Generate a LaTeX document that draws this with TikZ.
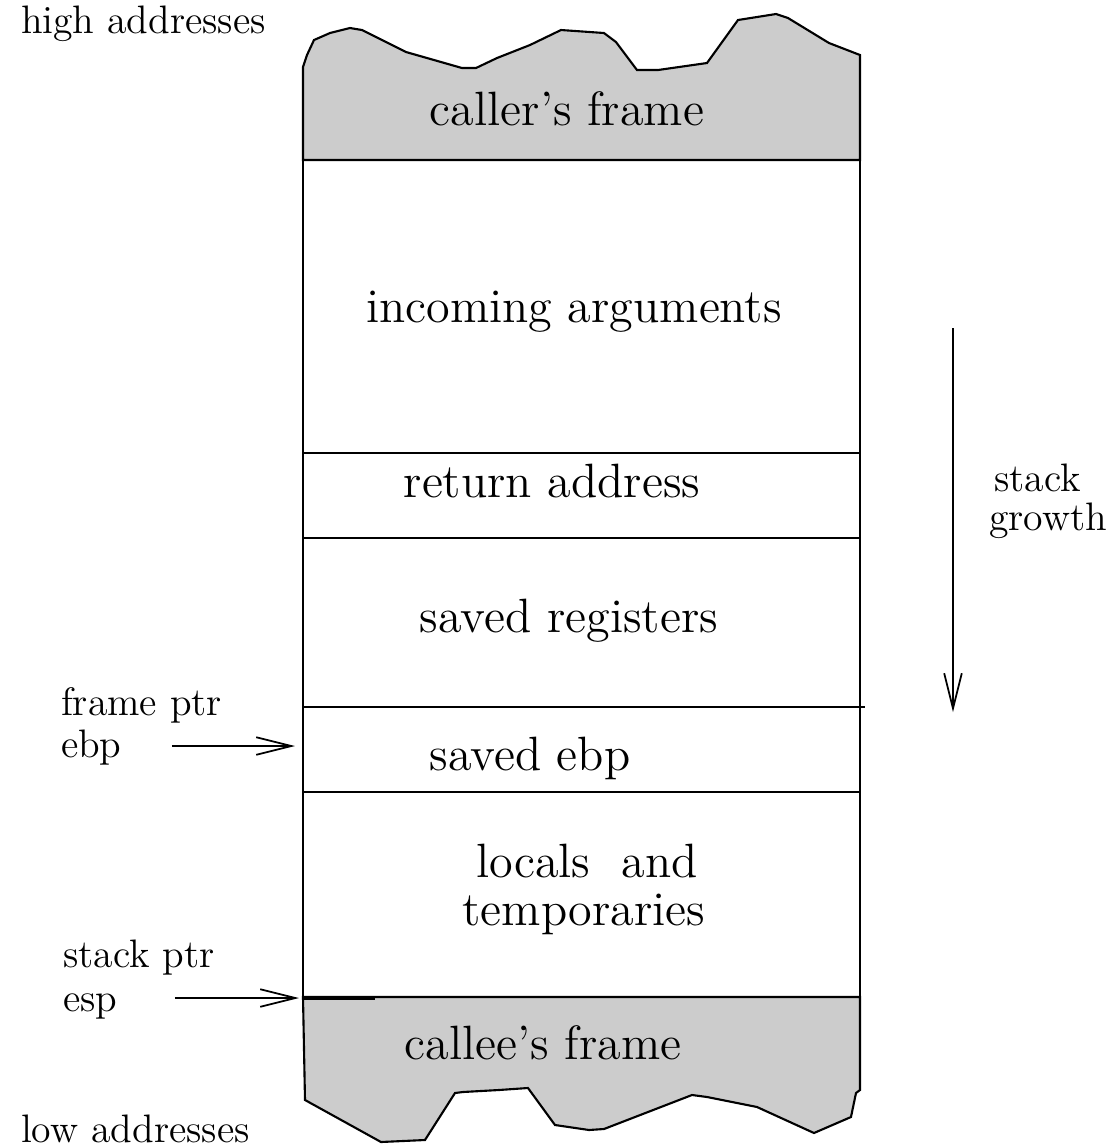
\documentclass[tikz,border=0pt]{standalone}
\usepackage{fontspec}
\usetikzlibrary{arrows.meta}
\begin{document}
\begin{tikzpicture}[x=0.01cm,y=-0.01cm,line width=0.6pt,
  >={Straight Barb[length=10pt,width=5pt]},
  cell/.style={font=\fontsize{13.7}{16}\selectfont,anchor=base,inner sep=0pt},
  side/.style={font=\fontsize{11.3}{13}\selectfont,anchor=base west,inner sep=0pt}]
\useasboundingbox (0,0) rectangle (1112,1147);
\filldraw[fill=gray!40] (303,160) -- (303,67) -- (307,55) -- (314,40) -- (330,33) -- (350,28) -- (362,30)
  -- (406,52) -- (462,68) -- (476,68) -- (497,58) -- (530,45) -- (561,30) -- (604,33) -- (616,42)
  -- (637,70) -- (658,70) -- (707,63) -- (738,20) -- (776,14) -- (788,18) -- (829,43) -- (860,55)
  -- (860,160) -- cycle;
\filldraw[fill=gray!40] (303,997) -- (305,1100) -- (381,1142) -- (425,1140) -- (455,1093) -- (463,1092)
  -- (499,1090) -- (528,1088) -- (555,1125) -- (589,1130) -- (604,1129) -- (692,1095) -- (707,1097)
  -- (757,1107) -- (814,1133) -- (851,1117) -- (856,1093) -- (860,1090) -- (860,997) -- cycle;
\draw (303,160) -- (303,997);
\draw (860,160) -- (860,997);
\draw (303,453) -- (860,453);
\draw (303,538) -- (860,538);
\draw (303,707) -- (865,707);
\draw (303,792) -- (860,792);
\draw[line width=1.2pt] (303,998) -- (375,998);
\node[cell] (caller) at (567,125) {caller's frame};
\node[cell] (args) at (574,322) {incoming arguments};
\node[cell] (ret) at (552,497) {return address};
\node[cell] (regs) at (569,632) {saved registers};
\node[cell] (sebp) at (530,770) {saved ebp};
\node[cell] (locals) at (587,877) {locals\ \ and};
\node[cell] (temps) at (584,925) {temporaries};
\node[cell] (callee) at (543,1059) {callee's frame};
\node[side] (high) at (20,33) {high addresses};
\node[side] (low) at (20,1142) {low addresses};
\node[side] (fp) at (60,715) {frame ptr};
\node[side] (ebp) at (60,757) {ebp};
\node[side] (sp) at (62,967) {stack ptr};
\node[side] (esp) at (62,1011) {esp};
\node[side] (stack) at (993,491) {stack};
\node[side] (growth) at (988,530) {growth};
\coordinate (ebpfrom) at (172,746);
\coordinate (ebpto) at (295,746);
\coordinate (espfrom) at (175,998);
\coordinate (espto) at (299,998);
\coordinate (grtop) at (953,328);
\coordinate (grtip) at (953,712);
\draw[->,line width=0.5pt] (ebpfrom) -- (ebpto);
\draw[->,line width=0.5pt] (espfrom) -- (espto);
\draw[->,line width=0.5pt] (grtop) -- (grtip);
\end{tikzpicture}
\end{document}
